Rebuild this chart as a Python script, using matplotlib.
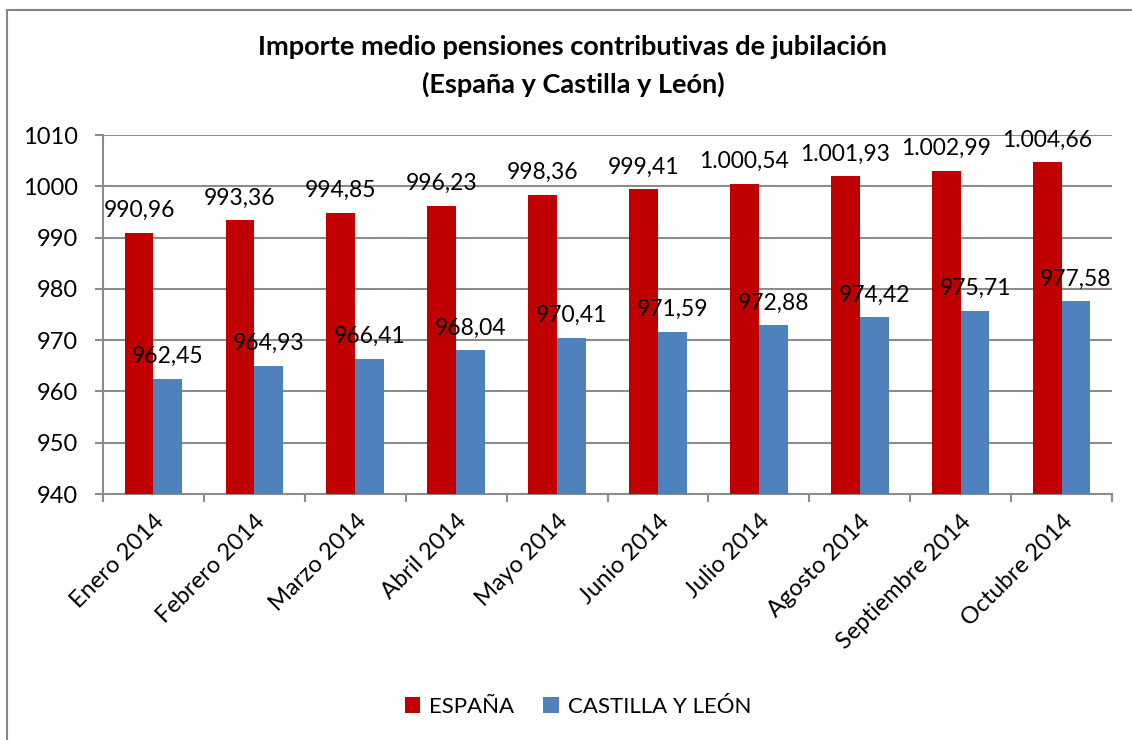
import matplotlib
matplotlib.use("Agg")
import matplotlib.pyplot as plt
import numpy as np
from matplotlib.patches import Rectangle

plt.rcParams['font.family'] = ['Lato', 'DejaVu Sans']

categories = ["Enero 2014", "Febrero 2014", "Marzo 2014", "Abril 2014", "Mayo 2014",
              "Junio 2014", "Julio 2014", "Agosto 2014", "Septiembre 2014", "Octubre 2014"]
espana = [990.96, 993.36, 994.85, 996.23, 998.36, 999.41, 1000.54, 1001.93, 1002.99, 1004.66]
castilla = [962.45, 964.93, 966.41, 968.04, 970.41, 971.59, 972.88, 974.42, 975.71, 977.58]
series_names = ["ESPAÑA", "CASTILLA Y LEÓN"]
yticks = [940, 950, 960, 970, 980, 990, 1000, 1010]

def fmt(v):
    s = f"{v:,.2f}"
    return s.replace(",", "X").replace(".", ",").replace("X", ".")

W, H = 1132, 740
fig = plt.figure(figsize=(W/100, H/100), dpi=100)
fig.patch.set_facecolor("white")
fig.patches.append(Rectangle((7/W, -0.1), 1.2, 1 - 10/H + 0.1, transform=fig.transFigure,
                             fill=False, edgecolor="#868686", linewidth=1.5))

ax = fig.add_axes([103/W, 1 - 494/H, (1112-103)/W, (494-135)/H])
x = np.arange(len(categories))
bw = 0.285
b1 = ax.bar(x - bw/2, espana, bw, color="#C00000", label=series_names[0], zorder=3)
b2 = ax.bar(x + bw/2, castilla, bw, color="#4F81BD", label=series_names[1], zorder=3)

for bars, vals in ((b1, espana), (b2, castilla)):
    for r, v in zip(bars, vals):
        ax.annotate(fmt(v), (r.get_x() + r.get_width()/2, v), xytext=(0, 8.5),
                    textcoords="offset points", ha="center", va="bottom",
                    fontsize=16.5, color="black", zorder=5)

ax.set_ylim(940, 1010)
ax.set_xlim(-0.5, len(categories) - 0.5)
ax.set_yticks(yticks)
ax.set_yticklabels([str(t) for t in yticks], fontsize=17)
ax.yaxis.grid(True, color="#8c8c8c", linewidth=1.5, zorder=0)
ax.set_axisbelow(True)
ax.tick_params(axis="y", length=6, width=1.5, color="#8c8c8c", pad=12)

ax.set_xticks(x)
ax.set_xticklabels(categories, rotation=45, ha="right", rotation_mode="anchor", fontsize=17)
ax.tick_params(axis="x", length=0, pad=12)
ax.set_xticks(np.arange(-0.5, len(categories)), minor=True)
ax.tick_params(axis="x", which="minor", length=6, width=1.5, color="#8c8c8c")

for s in ["top", "right"]:
    ax.spines[s].set_visible(False)
for s in ["left", "bottom"]:
    ax.spines[s].set_color("#8c8c8c")
    ax.spines[s].set_linewidth(1.5)

fig.text(573/W, 1 - 47/H, "Importe medio pensiones contributivas de jubilación",
         ha="center", va="center", fontsize=19.5, fontweight="bold")
fig.text(573/W, 1 - 84/H, "(España y Castilla y León)",
         ha="center", va="center", fontsize=19.5, fontweight="bold")

fig.legend(handles=[b1, b2], labels=series_names, loc="center", bbox_to_anchor=(578/W, 1 - 707/H),
           ncol=2, frameon=False, fontsize=16, handlelength=0.7, handleheight=0.7,
           handletextpad=0.4, columnspacing=1.3)

fig.savefig("out.png", dpi=100)
